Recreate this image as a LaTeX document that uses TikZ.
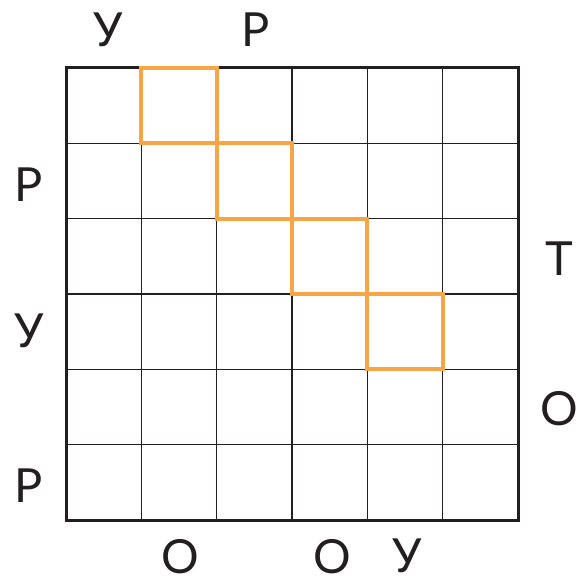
\documentclass[tikz,border=0pt]{standalone}
\usepackage{fontspec}
\setmainfont{Lato}
\definecolor{ink}{HTML}{231F20}
\definecolor{hl}{HTML}{F8A548}
\begin{document}
\begin{tikzpicture}[x=1pt,y=-1pt,
  lbl/.style={anchor=base,inner sep=0pt,text depth=0pt,text=ink,font=\fontsize{47}{47}\selectfont},
  thin/.style={draw=ink,line width=1.6pt},
  frame/.style={draw=ink,line width=3pt},
  hlbox/.style={draw=hl,line width=4pt}]
\useasboundingbox (0,0) rectangle (582,578);
\def\c{75.333}
% inner grid
\foreach \i in {1,...,5}{
  \draw[thin] ({66+\i*\c},68) -- ({66+\i*\c},520);
  \draw[thin] (66,{68+\i*\c}) -- (518,{68+\i*\c});
}
\draw[frame] (66,68) rectangle (518,520);
% highlighted cells
\foreach \k in {0,...,3}{
  \draw[hlbox] ({66+(\k+1)*\c},{68+\k*\c}) rectangle ({66+(\k+2)*\c},{68+(\k+1)*\c});
}
% labels
\node[lbl] (t1) at (108,47) {У};
\node[lbl] (t2) at (256,47) {Р};
\node[lbl] (l1) at (29,201) {Р};
\node[lbl] (l2) at (29,347) {У};
\node[lbl] (l3) at (29,502) {Р};
\node[lbl] (r1) at (559,275) {Т};
\node[lbl] (r2) at (559,425) {О};
\node[lbl] (b1) at (180,573) {О};
\node[lbl] (b2) at (332,573) {О};
\node[lbl] (b3) at (407,572) {У};
\end{tikzpicture}
\end{document}
